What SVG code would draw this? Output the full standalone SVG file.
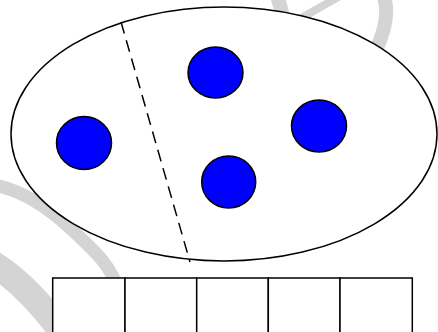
<svg xmlns="http://www.w3.org/2000/svg" width="438" height="332" viewBox="0 0 438 332">
  <style>
    .wm { fill: none; stroke: #d4d4d4; stroke-linecap: butt; }
    .outline { fill: #ffffff; stroke: #000000; stroke-width: 1.5; }
    .dot { fill: #0000ff; stroke: #000000; stroke-width: 1.5; }
    .cell { fill: #ffffff; stroke: #000000; stroke-width: 1.5; }
    .divider { fill: none; stroke: #000000; stroke-width: 1.5; stroke-dasharray: 12 7; }
  </style>
  <rect width="438" height="332" fill="#ffffff"/>
  <g id="watermark">
    <polygon points="271,0 286,0 292,24 278,24" fill="#d4d4d4"/>
    <polygon points="325,0 341,0 297,25 281,25" fill="#d4d4d4"/>
    <path class="wm" stroke-width="14" d="M383,-5 Q392,15 376,50"/>
    <path class="wm" stroke-width="13" d="M-20,183 C10,185 40,200 70,228 S110,265 121,295"/>
    <path class="wm" stroke-width="26" d="M-10,262 Q25,282 62,332"/>
  </g>
  <g id="region">
    <ellipse class="outline" cx="224" cy="134" rx="213" ry="127"/>
  </g>
  <g id="connectors">
    <line class="divider" x1="121" y1="22" x2="190" y2="262"/>
  </g>
  <g id="dot-left"><ellipse class="dot" cx="84" cy="143" rx="27.5" ry="26.5"/></g>
  <g id="dot-top"><ellipse class="dot" cx="215.5" cy="72.5" rx="27.5" ry="25.5"/></g>
  <g id="dot-right"><ellipse class="dot" cx="319" cy="126" rx="27.5" ry="26"/></g>
  <g id="dot-bottom"><ellipse class="dot" cx="228.7" cy="182" rx="27" ry="26"/></g>
  <g id="array">
    <rect class="cell" x="52.7" y="278" width="72.3" height="60"/>
    <rect class="cell" x="125" y="278" width="71.7" height="60"/>
    <rect class="cell" x="196.7" y="278" width="71.6" height="60"/>
    <rect class="cell" x="268.3" y="278" width="71.7" height="60"/>
    <rect class="cell" x="340" y="278" width="72.3" height="60"/>
  </g>
</svg>
